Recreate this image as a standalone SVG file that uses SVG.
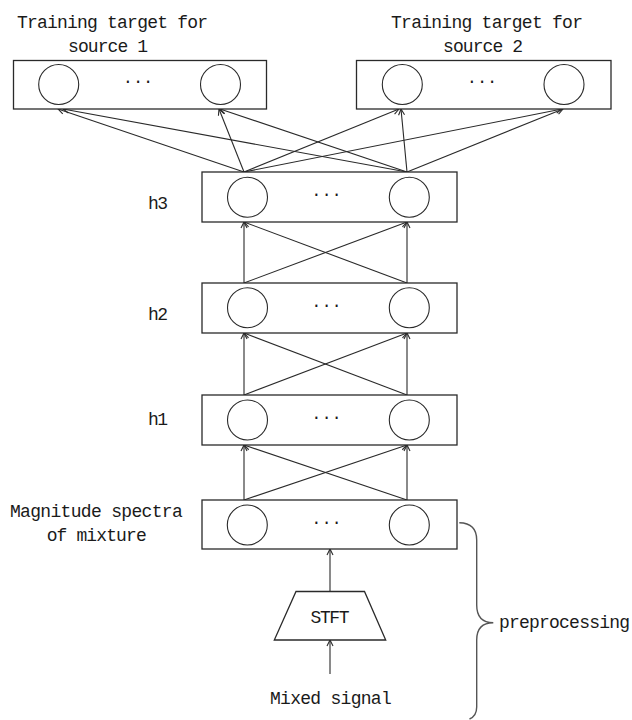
<svg xmlns="http://www.w3.org/2000/svg" width="632" height="720" viewBox="0 0 632 720">
  <defs>
    <style>
      .box { fill: #ffffff; stroke: #2a2a2a; stroke-width: 1.3; }
      .unit { fill: none; stroke: #2a2a2a; stroke-width: 1.1; }
      .lbl { font-family: "Liberation Mono", "DejaVu Sans Mono", monospace; font-size: 18px; fill: #1a1a1a; }
      .dots { font-family: "Liberation Mono", "DejaVu Sans Mono", monospace; font-size: 17px; fill: #1a1a1a; text-anchor: middle; }
      .edge { fill: none; stroke: #2a2a2a; stroke-width: 1.1; marker-end: url(#arr); }
      .brace { fill: none; stroke: #555555; stroke-width: 1.4; }
    </style>
    <marker id="arr" viewBox="-8 -5 10 10" refX="0" refY="0" markerWidth="10" markerHeight="10" markerUnits="userSpaceOnUse" orient="auto">
      <path d="M-6,-3 L0,0 L-6,3" fill="none" stroke="#2a2a2a" stroke-width="1.1"/>
    </marker>
  </defs>

  <rect width="632" height="720" fill="#ffffff"/>

  <!-- connectors -->
  <g id="connectors">
    <!-- h3 to source 1 / source 2 targets -->
    <line class="edge" x1="244" y1="172" x2="58" y2="109"/>
    <line class="edge" x1="407" y1="172" x2="63" y2="109"/>
    <line class="edge" x1="244" y1="172" x2="219" y2="109"/>
    <line class="edge" x1="407" y1="172" x2="220" y2="109"/>
    <line class="edge" x1="244" y1="172" x2="399" y2="109"/>
    <line class="edge" x1="407" y1="172" x2="401" y2="109"/>
    <line class="edge" x1="244" y1="172" x2="562" y2="109"/>
    <line class="edge" x1="407" y1="172" x2="563" y2="109"/>
    <!-- h2 to h3 -->
    <line class="edge" x1="244" y1="283" x2="244" y2="222"/>
    <line class="edge" x1="407" y1="283" x2="407" y2="222"/>
    <line class="edge" x1="244" y1="283" x2="407" y2="222"/>
    <line class="edge" x1="407" y1="283" x2="244" y2="222"/>
    <!-- h1 to h2 -->
    <line class="edge" x1="244" y1="395" x2="244" y2="333"/>
    <line class="edge" x1="407" y1="395" x2="407" y2="333"/>
    <line class="edge" x1="244" y1="395" x2="407" y2="333"/>
    <line class="edge" x1="407" y1="395" x2="244" y2="333"/>
    <!-- input to h1 -->
    <line class="edge" x1="244" y1="500" x2="244" y2="445"/>
    <line class="edge" x1="407" y1="500" x2="407" y2="445"/>
    <line class="edge" x1="244" y1="500" x2="407" y2="445"/>
    <line class="edge" x1="407" y1="500" x2="244" y2="445"/>
    <!-- STFT to input, signal to STFT -->
    <line class="edge" x1="330" y1="592" x2="330" y2="549"/>
    <line class="edge" x1="330" y1="674" x2="330" y2="640"/>
  </g>

  <!-- training target for source 1 -->
  <g id="target1">
    <text class="lbl" x="17" y="28" textLength="191">Training target for</text>
    <text class="lbl" x="68" y="51.5" textLength="80">source 1</text>
    <rect class="box" x="13.5" y="60.5" width="253" height="48.5"/>
    <circle class="unit" cx="58.7" cy="84.5" r="20"/>
    <circle class="unit" cx="220.5" cy="84.5" r="20"/>
    <text class="dots" x="138" y="86">···</text>
  </g>

  <!-- training target for source 2 -->
  <g id="target2">
    <text class="lbl" x="391" y="28" textLength="192">Training target for</text>
    <text class="lbl" x="443" y="51.5" textLength="80">source 2</text>
    <rect class="box" x="356.5" y="60.5" width="254.5" height="48.5"/>
    <circle class="unit" cx="402.3" cy="84.5" r="20"/>
    <circle class="unit" cx="564" cy="84.5" r="20"/>
    <text class="dots" x="482" y="86">···</text>
  </g>

  <!-- hidden layer 3 -->
  <g id="h3">
    <text class="lbl" x="148" y="209" textLength="20">h3</text>
    <rect class="box" x="202" y="172" width="255" height="50"/>
    <circle class="unit" cx="247.5" cy="197.3" r="20"/>
    <circle class="unit" cx="409.3" cy="197.3" r="20"/>
    <text class="dots" x="326.5" y="199">···</text>
  </g>

  <!-- hidden layer 2 -->
  <g id="h2">
    <text class="lbl" x="148" y="320" textLength="20">h2</text>
    <rect class="box" x="202" y="283" width="255" height="50"/>
    <circle class="unit" cx="247.5" cy="307.8" r="20"/>
    <circle class="unit" cx="409.3" cy="307.8" r="20"/>
    <text class="dots" x="326.5" y="309.5">···</text>
  </g>

  <!-- hidden layer 1 -->
  <g id="h1">
    <text class="lbl" x="148" y="425" textLength="20">h1</text>
    <rect class="box" x="202" y="395" width="255" height="50"/>
    <circle class="unit" cx="247.5" cy="420" r="20"/>
    <circle class="unit" cx="409.3" cy="420" r="20"/>
    <text class="dots" x="326.5" y="421.7">···</text>
  </g>

  <!-- input layer: magnitude spectra -->
  <g id="input">
    <text class="lbl" x="10" y="516.7" textLength="172.7">Magnitude spectra</text>
    <text class="lbl" x="46.7" y="540.5" textLength="100">of mixture</text>
    <rect class="box" x="202" y="500" width="255" height="49"/>
    <circle class="unit" cx="247.3" cy="525" r="20"/>
    <circle class="unit" cx="409.3" cy="525" r="20"/>
    <text class="dots" x="326.5" y="526.5">···</text>
  </g>

  <!-- STFT block -->
  <g id="stft">
    <polygon class="box" points="296,591.5 364.5,591.5 385.7,640 274.3,640"/>
    <text class="lbl" x="330" y="623.3" text-anchor="middle" textLength="39">STFT</text>
  </g>

  <!-- mixed signal -->
  <g id="signal">
    <text class="lbl" x="270" y="704" textLength="121.7">Mixed signal</text>
  </g>

  <!-- preprocessing brace -->
  <g id="preprocessing">
    <path class="brace" d="M459.3,522.7 Q476.7,523 476.7,540 L476.7,605 Q476.7,622.7 493.3,622.7 Q476.7,622.7 476.7,640 L476.7,707 Q476.7,716 469.5,719"/>
    <text class="lbl" x="499" y="628.3" textLength="131">preprocessing</text>
  </g>
</svg>
